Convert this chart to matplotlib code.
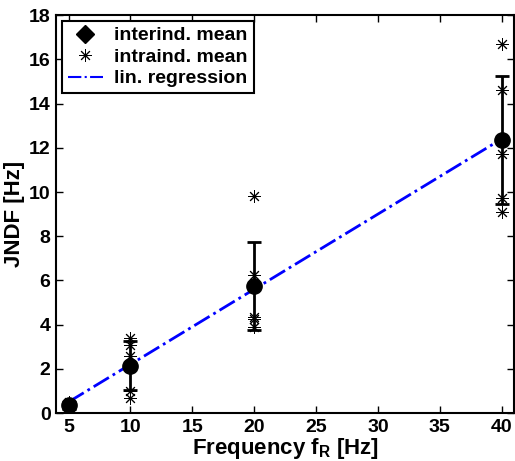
import matplotlib
matplotlib.use("Agg")
import matplotlib.pyplot as plt
from matplotlib.lines import Line2D
import numpy as np

plt.rcParams['font.family'] = ['Liberation Sans', 'DejaVu Sans']
plt.rcParams['font.weight'] = 'bold'
plt.rcParams['mathtext.fontset'] = 'custom'
plt.rcParams['mathtext.rm'] = 'Liberation Sans:bold'
plt.rcParams['mathtext.it'] = 'Liberation Sans:bold'

# data
freqs = [5, 10, 20, 40]
means = [0.35, 2.15, 5.75, 12.35]
errs = [0.15, 1.1, 2.0, 2.9]
intra = {
    5: [0.45, 0.5, 0.3, 0.25, 0.25],
    10: [3.4, 3.1, 2.6, 1.0, 0.7],
    20: [9.8, 6.25, 4.35, 4.25, 3.9],
    40: [16.7, 14.6, 11.7, 9.75, 9.1],
}
reg_slope = 0.34
reg_icpt = -1.2

fig = plt.figure(figsize=(5.15, 4.61), dpi=100)
ax = fig.add_axes([0.109, 0.104, 0.889, 0.863])

star = (8, 2, 0)
for f, vals in intra.items():
    ax.plot([f] * len(vals), vals, linestyle='none', marker=star,
            color='black', markersize=9, markeredgewidth=0.7)

ax.errorbar(freqs, means, yerr=errs, fmt='o', color='black', markersize=11,
            elinewidth=2, capsize=5, capthick=2, zorder=4)

xr = np.array([freqs[0], freqs[-1]])
ax.plot(xr, reg_slope * xr + reg_icpt, color='blue', linestyle='-.',
        linewidth=2, zorder=3)

ax.set_xlim(4, 41)
ax.set_ylim(0, 18)
ax.set_xticks([5, 10, 15, 20, 25, 30, 35, 40])
ax.set_yticks(range(0, 19, 2))
ax.tick_params(direction='in', top=True, right=True, labelsize=14,
               width=1, length=5, pad=4)
for lbl in ax.get_xticklabels() + ax.get_yticklabels():
    lbl.set_fontweight('bold')
for s in ax.spines.values():
    s.set_linewidth(1.5)

ax.set_xlabel(r'Frequency f$_\mathrm{R}$ [Hz]', fontsize=16, fontweight='bold', labelpad=0)
ax.set_ylabel('JNDF [Hz]', fontsize=16, fontweight='bold', labelpad=3)

handles = [
    Line2D([], [], linestyle='none', marker='D', color='black', markersize=9),
    Line2D([], [], linestyle='none', marker=star, color='black', markersize=9,
           markeredgewidth=0.7),
    Line2D([], [], color='blue', linestyle='-.', linewidth=1.5),
]
leg = ax.legend(handles, ['interind. mean', 'intraind. mean', 'lin. regression'],
                loc='upper left', fontsize=14, fancybox=False, framealpha=1,
                borderaxespad=0.3, handlelength=1.8, labelspacing=0.2,
                borderpad=0.3, handletextpad=0.6)
leg.get_frame().set_edgecolor('black')
leg.get_frame().set_linewidth(1.5)
for t in leg.get_texts():
    t.set_fontweight('bold')

fig.savefig('out.png', dpi=100)
